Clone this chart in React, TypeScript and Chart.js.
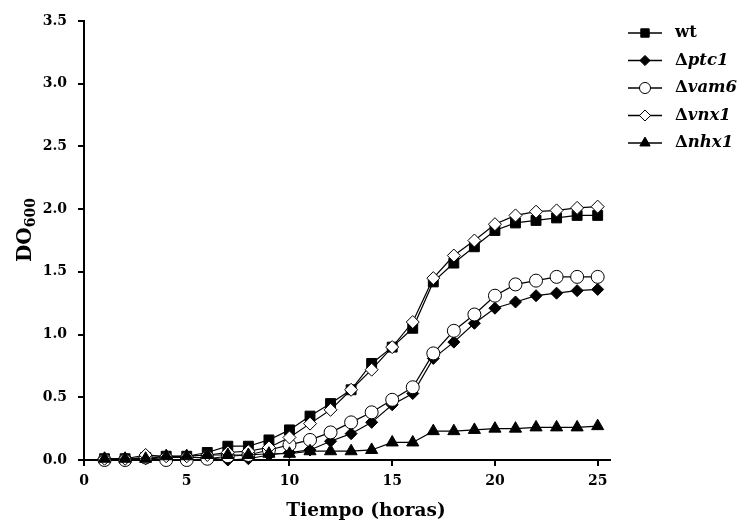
import React, { useEffect, useRef } from 'react';
import { Chart, registerables } from 'chart.js';
import { drawPoint } from 'chart.js/helpers';

Chart.register(...registerables);

const hours = [1, 2, 3, 4, 5, 6, 7, 8, 9, 10, 11, 12, 13, 14, 15, 16, 17, 18, 19, 20, 21, 22, 23, 24, 25];

const wt = [0.01, 0.01, 0.02, 0.03, 0.03, 0.06, 0.11, 0.11, 0.16, 0.24, 0.35, 0.45, 0.56, 0.77, 0.90, 1.05, 1.42, 1.57, 1.70, 1.83, 1.89, 1.91, 1.93, 1.95, 1.95];
const ptc1 = [0.00, 0.00, 0.01, 0.02, 0.02, 0.02, 0.00, 0.01, 0.04, 0.06, 0.08, 0.15, 0.21, 0.30, 0.44, 0.53, 0.81, 0.94, 1.09, 1.21, 1.26, 1.31, 1.33, 1.35, 1.36];
const vam6 = [0.00, 0.00, 0.02, 0.00, 0.00, 0.01, 0.03, 0.04, 0.08, 0.12, 0.16, 0.22, 0.30, 0.38, 0.48, 0.58, 0.85, 1.03, 1.16, 1.31, 1.40, 1.43, 1.46, 1.46, 1.46];
const vnx1 = [0.01, 0.01, 0.04, 0.03, 0.03, 0.04, 0.06, 0.07, 0.10, 0.18, 0.29, 0.40, 0.56, 0.72, 0.90, 1.10, 1.45, 1.63, 1.75, 1.88, 1.95, 1.98, 1.99, 2.01, 2.02];
const nhx1 = [0.01, 0.01, 0.01, 0.03, 0.03, 0.04, 0.04, 0.04, 0.05, 0.05, 0.07, 0.07, 0.07, 0.08, 0.14, 0.14, 0.23, 0.23, 0.24, 0.25, 0.25, 0.26, 0.26, 0.26, 0.27];

const seriesNames = ['wt', 'ptc1', 'vam6', 'vnx1', 'nhx1'];
const xTickValues = [0, 5, 10, 15, 20, 25];
const xTitle = 'Tiempo (horas)';
const yTitleMain = 'DO';
const yTitleSub = '600';

const SERIF = '"DejaVu Serif", serif';

export default function App() {
  const ref = useRef<HTMLCanvasElement>(null);

  useEffect(() => {
    document.body.style.margin = '0';
    const values = [wt, ptc1, vam6, vnx1, nhx1];
    const styles = [
      { pointStyle: 'rect', fill: '#000', radius: 7, order: 5 },
      { pointStyle: 'rectRot', fill: '#000', radius: 6, order: 4 },
      { pointStyle: 'circle', fill: '#fff', radius: 6.5, order: 3 },
      { pointStyle: 'rectRot', fill: '#fff', radius: 6.5, order: 2 },
      { pointStyle: 'triangle', fill: '#000', radius: 7, order: 1 },
    ];

    const textPlugin = {
      id: 'customText',
      afterDraw(chart: any) {
        const ctx = chart.ctx as CanvasRenderingContext2D;
        const ca = chart.chartArea;
        ctx.save();
        // legend
        const lx = ca.right + 18;
        const lineLen = 34;
        const tx = lx + lineLen + 13;
        seriesNames.forEach((name, i) => {
          const st = styles[i];
          const y = ca.top + 12 + i * 27.5;
          ctx.strokeStyle = '#000';
          ctx.lineWidth = 1.5;
          ctx.beginPath();
          ctx.moveTo(lx, y);
          ctx.lineTo(lx + lineLen, y);
          ctx.stroke();
          ctx.fillStyle = st.fill;
          ctx.lineWidth = 1;
          drawPoint(ctx, { pointStyle: st.pointStyle as any, radius: st.radius * 0.85, borderWidth: 1, rotation: 0 }, lx + lineLen / 2, y);
          ctx.fillStyle = '#000';
          ctx.textBaseline = 'middle';
          ctx.textAlign = 'left';
          if (i === 0) {
            ctx.font = `bold 16.5px ${SERIF}`;
            ctx.fillText(name, tx, y);
          } else {
            ctx.font = `bold 16.5px ${SERIF}`;
            ctx.fillText('Δ', tx, y);
            const w = ctx.measureText('Δ').width;
            ctx.font = `italic bold 16.5px ${SERIF}`;
            ctx.fillText(name, tx + w, y);
          }
        });
        // x title
        ctx.font = `bold 18.5px ${SERIF}`;
        ctx.textAlign = 'center';
        ctx.textBaseline = 'alphabetic';
        ctx.fillText(xTitle, 366, 516);
        // y title
        ctx.textAlign = 'left';
        ctx.translate(31, 230);
        ctx.rotate(-Math.PI / 2);
        ctx.font = `bold 20px ${SERIF}`;
        const w1 = ctx.measureText(yTitleMain).width;
        ctx.font = `bold 14px ${SERIF}`;
        const w2 = ctx.measureText(yTitleSub).width;
        const start = -(w1 + w2) / 2;
        ctx.font = `bold 20px ${SERIF}`;
        ctx.fillText(yTitleMain, start, 0);
        ctx.font = `bold 14px ${SERIF}`;
        ctx.fillText(yTitleSub, start + w1, 4);
        ctx.restore();
      },
    };

    const chart = new Chart(ref.current!, {
      type: 'line',
      data: {
        datasets: seriesNames.map((name, i) => ({
          label: name,
          data: hours.map((h, j) => ({ x: h, y: values[i][j] })),
          borderColor: '#000',
          borderWidth: 1.2,
          pointStyle: styles[i].pointStyle as any,
          pointRadius: styles[i].radius,
          pointHoverRadius: styles[i].radius,
          pointBackgroundColor: styles[i].fill,
          pointBorderColor: '#000',
          pointBorderWidth: 1,
          order: styles[i].order,
          tension: 0,
          fill: false,
          clip: false as any,
        })),
      },
      options: {
        animation: false,
        responsive: true,
        maintainAspectRatio: false,
        layout: { padding: { left: 0, top: 21, right: 135, bottom: 0 } },
        plugins: { legend: { display: false }, tooltip: { enabled: false } },
        scales: {
          x: {
            type: 'linear',
            min: 0,
            max: 25.6,
            afterBuildTicks: (s: any) => {
              s.ticks = xTickValues.map((v) => ({ value: v }));
            },
            afterFit: (s: any) => {
              s.height = 62;
            },
            grid: { drawOnChartArea: false, drawTicks: true, tickLength: 6, color: '#000', lineWidth: 2 },
            border: { display: true, color: '#000', width: 2 },
            ticks: {
              color: '#000',
              font: { family: SERIF, size: 14, weight: 'bold' },
              padding: 7,
              maxRotation: 0,
              autoSkip: false,
              callback: (v: any) => String(v),
            },
          },
          y: {
            type: 'linear',
            min: 0,
            max: 3.5,
            afterFit: (s: any) => {
              s.width = 84;
            },
            grid: { drawOnChartArea: false, drawTicks: true, tickLength: 6, color: '#000', lineWidth: 2 },
            border: { display: true, color: '#000', width: 2 },
            ticks: {
              stepSize: 0.5,
              color: '#000',
              font: { family: SERIF, size: 14, weight: 'bold' },
              padding: 11,
              callback: (v: any) => Number(v).toFixed(1),
            },
          },
        },
      },
      plugins: [textPlugin],
    });
    return () => chart.destroy();
  }, []);

  return (
    <div style={{ width: 745, height: 522, position: 'relative' }}>
      <canvas ref={ref} />
    </div>
  );
}
